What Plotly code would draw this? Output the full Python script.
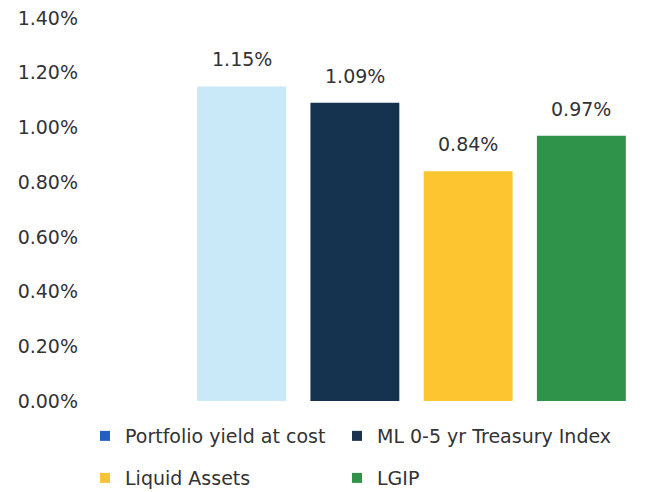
import plotly.graph_objects as go

categories = ["Portfolio yield at cost", "ML 0-5 yr Treasury Index", "Liquid Assets", "LGIP"]
values = [1.15, 1.09, 0.84, 0.97]
bar_colors = ["#c9e8f8", "#15324f", "#fdc530", "#2f9449"]
legend_colors = ["#2160c0", "#1b3250", "#f7c33a", "#2f9449"]
tick_vals = [0.0, 0.2, 0.4, 0.6, 0.8, 1.0, 1.2, 1.4]
tick_text = ["0.00%", "0.20%", "0.40%", "0.60%", "0.80%", "1.00%", "1.20%", "1.40%"]

FONT = "DejaVu Sans, Verdana, sans-serif"
TXT = "#333333"

fig = go.Figure()
fig.add_trace(go.Bar(
    x=categories, y=values, marker=dict(color=bar_colors, line=dict(width=0)),
    showlegend=False, hoverinfo="x+y",
))
legend_ids = ["legend", "legend2", "legend3", "legend4"]
for name, col, lid in zip(categories, legend_colors, legend_ids):
    fig.add_trace(go.Scatter(
        x=[None], y=[None], mode="markers", name=name,
        marker=dict(symbol="square", size=10, color=col),
        legend=lid,
    ))

for c, v in zip(categories, values):
    fig.add_annotation(x=c, y=v, text=f"{v:.2f}%", showarrow=False,
                       yanchor="bottom", yshift=14,
                       font=dict(size=19, color=TXT, family=FONT))

legend_common = dict(orientation="v", xanchor="left", yanchor="top",
                     xref="container", yref="container",
                     font=dict(size=19, color=TXT, family=FONT),
                     itemwidth=30, bgcolor="rgba(0,0,0,0)")

col_x = [0.130, 0.5153]
row_y = [0.1524, 0.067]

fig.update_layout(
    width=654, height=492,
    margin=dict(l=185, r=16, t=18, b=91, autoexpand=False),
    paper_bgcolor="white", plot_bgcolor="white",
    bargap=0.215,
    font=dict(family=FONT, size=19, color=TXT),
    xaxis=dict(showticklabels=False, showgrid=False, zeroline=False, showline=False,
               ticks=""),
    yaxis=dict(range=[0, 1.4], tickvals=tick_vals, ticktext=tick_text,
               showgrid=False, zeroline=False, showline=False,
               ticklabelstandoff=106,
               tickfont=dict(size=19, color=TXT, family=FONT)),
    legend=dict(x=col_x[0], y=row_y[0], **legend_common),
    legend2=dict(x=col_x[1], y=row_y[0], **legend_common),
    legend3=dict(x=col_x[0], y=row_y[1], **legend_common),
    legend4=dict(x=col_x[1], y=row_y[1], **legend_common),
)

fig.write_html("out.html")
